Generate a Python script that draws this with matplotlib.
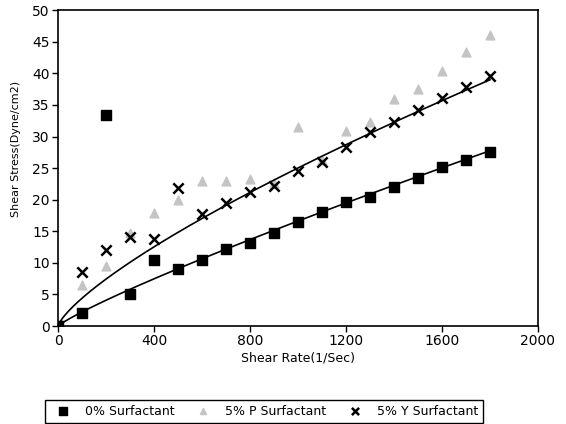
import numpy as np
import matplotlib
matplotlib.use("Agg")
import matplotlib.pyplot as plt

# ---------- Data ----------
shear_rate = [0, 100, 200, 300, 400, 500, 600, 700, 800, 900,
              1000, 1100, 1200, 1300, 1400, 1500, 1600, 1700, 1800]

stress_0 = [0, 2.1, 33.4, 5.1, 10.4, 9.1, 10.4, 12.2, 13.2, 14.7,
            16.5, 18.1, 19.7, 20.4, 22.0, 23.4, 25.1, 26.3, 27.6]
stress_p = [0, 6.5, 9.5, 14.7, 17.9, 19.9, 23.0, 23.0, 23.3, 22.6,
            31.5, 26.3, 30.8, 32.3, 36.0, 37.5, 40.4, 43.4, 46.0]
stress_y = [0, 8.6, 12.0, 14.1, 13.8, 21.8, 17.7, 19.4, 21.2, 22.2,
            24.5, 25.9, 28.3, 30.7, 32.3, 34.2, 36.1, 37.9, 39.6]

labels = ["0% Surfactant", "5% P Surfactant", "5% Y Surfactant"]
x_ticks = [0, 400, 800, 1200, 1600, 2000]
y_ticks = [0, 5, 10, 15, 20, 25, 30, 35, 40, 45, 50]


# ---------- Power trendline ----------
def power_fit(x, y, skip=()):
    x = np.asarray(x, float)
    y = np.asarray(y, float)
    keep = (x > 0) & (y > 0)
    for i in skip:
        keep[i] = False
    b, loga = np.polyfit(np.log(x[keep]), np.log(y[keep]), 1)
    xs = np.linspace(0, x.max(), 200)
    return xs, np.exp(loga) * xs ** b


# ---------- Plot ----------
fig = plt.figure(figsize=(5.66, 4.24), dpi=100)
ax = fig.add_axes([0.1025, 0.231, 0.848, 0.745])

ax.scatter(shear_rate, stress_0, marker="s", s=55, color="black",
           label=labels[0], zorder=3)
ax.scatter(shear_rate, stress_p, marker="^", s=40, color="#c4c4c4",
           label=labels[1], zorder=2)
ax.scatter(shear_rate, stress_y, marker="x", s=55, color="black",
           linewidths=1.8, label=labels[2], zorder=3)

xs, ys = power_fit(shear_rate, stress_0, skip=(2,))
ax.plot(xs, ys, color="black", lw=1.2, zorder=2)
# scattered low-rate points left out of the fit
xs, ys = power_fit(shear_rate, stress_y, skip=(1, 2, 3, 4, 5))
ax.plot(xs, ys, color="black", lw=1.2, zorder=2)

ax.set_xlim(0, 2000)
ax.set_ylim(0, 50)
ax.set_xticks(x_ticks)
ax.set_yticks(y_ticks)
ax.tick_params(direction="out", length=4, width=1, labelsize=10, pad=2)
for s in ax.spines.values():
    s.set_linewidth(1.2)

ax.set_xlabel("Shear Rate(1/Sec)", fontsize=9, labelpad=2)
ax.set_ylabel("Shear Stress(Dyne/cm2)", fontsize=8)
ax.yaxis.set_label_coords(-0.078, 0.56)

leg = fig.legend(loc="lower left", bbox_to_anchor=(0.08, 0.003, 0.774, 0.078),
                 mode="expand", ncol=3, fontsize=9, fancybox=False,
                 edgecolor="black", framealpha=1, handletextpad=0.8,
                 borderaxespad=0, scatterpoints=1, markerscale=0.7)
leg.get_frame().set_linewidth(1)

fig.savefig("out.png", dpi=100)
